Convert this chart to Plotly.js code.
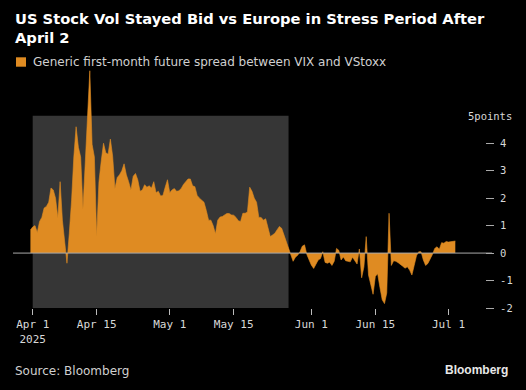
<!DOCTYPE html>
<html>
<head>
<meta charset="utf-8">
<script src="https://cdn.plot.ly/plotly-3.0.1.min.js"></script>
<style>
  html, body { margin: 0; padding: 0; background: #000; }
  #chart { width: 526px; height: 390px; }
</style>
</head>
<body>
<div id="chart"></div>
<script>
// Sampling: one reading every 12 hours, starting 2025-03-31 12:00
const startTime = Date.UTC(2025, 2, 31, 12, 0);
const stepHours = 12;

// Generic first-month future spread between VIX and VStoxx (points)
const spread = [
  0.84, 0.95, 1.0, 0.75, 1.15, 1.3, 1.64, 1.7, 1.85, 2.37,
  2.3, 2.0, 1.28, 2.6, 1.2, 0.5, -0.37, 0.7, 1.9, 3.5,
  4.6, 3.85, 3.5, 1.6, 3.3, 4.75, 6.64, 3.96, 3.5, 0.6,
  2.6, 3.35, 4.0, 3.65, 3.6, 4.15, 3.53, 2.35, 2.75, 2.85,
  3.0, 3.25, 2.85, 2.6, 2.3, 2.8, 2.9, 2.67, 2.25, 2.3,
  2.49, 2.4, 2.45, 2.37, 2.6, 2.2, 2.25, 2.08, 2.1, 2.4,
  2.67, 2.2, 2.3, 2.35, 2.25, 2.27, 2.35, 2.5, 2.62, 2.7,
  2.7, 2.45, 2.42, 2.1, 2.0, 1.94, 1.85, 1.55, 1.2, 1.2,
  1.0, 0.7, 1.2, 1.31, 1.33, 1.39, 1.44, 1.44, 1.39, 1.38,
  1.3, 1.18, 1.15, 1.45, 1.45, 1.5, 2.4, 2.25, 2.0, 1.85,
  1.3, 1.3, 1.2, 1.25, 0.92, 0.6, 0.66, 0.72, 0.85, 0.97,
  0.9, 0.65, 0.42, 0.2, -0.1, -0.3, -0.15, -0.08, 0.05, 0.25,
  0.3, -0.05, -0.25, -0.44, -0.56, -0.4, -0.25, -0.2, 0.05, -0.34,
  -0.37, -0.33, -0.45, -0.3, 0.17, 0.1, -0.25, -0.14, -0.28, -0.3,
  -0.32, -0.15, -0.3, -0.4, 0.15, -0.9, -0.5, 0.6, -0.8, -1.15,
  -1.5, -0.85, -0.75, -1.25, -1.7, -1.84, -1.45, 1.45, -0.45, -0.28,
  -0.3, -0.35, -0.4, -0.48, -0.55, -0.5, -0.62, -0.8, -0.45, -0.1,
  0.05, 0.05, -0.25, -0.45, -0.38, -0.22, -0.05, 0.17, 0.23, 0.14,
  0.38, 0.36, 0.42, 0.4, 0.42, 0.42, 0.44
];

// Axis ticks
const xTickVals = ["2025-04-01", "2025-04-15", "2025-05-01", "2025-05-15", "2025-06-01", "2025-06-15", "2025-07-01"];
const xTickText = ["Apr 1<br>2025", "Apr 15", "May 1", "May 15", "Jun 1", "Jun 15", "Jul 1"];
const yTickVals = [-2, -1, 0, 1, 2, 3, 4];
const yTickText = ["-2", "-1", "0", "1", "2", "3", "4"];

// Stress period (shaded)
const stressStart = "2025-04-01";
const stressEnd = "2025-05-27";

function pad(n) { return (n < 10 ? "0" : "") + n; }
const times = spread.map((_, i) => {
  const d = new Date(startTime + i * stepHours * 3600 * 1000);
  return d.getUTCFullYear() + "-" + pad(d.getUTCMonth() + 1) + "-" + pad(d.getUTCDate()) +
         " " + pad(d.getUTCHours()) + ":" + pad(d.getUTCMinutes());
});

const ORANGE = "#df8b22";
const W = 526, H = 390;
const M = { l: 13, r: 41, t: 68, b: 82 };
const pw = W - M.l - M.r, ph = H - M.t - M.b;
const px = x => (x - M.l) / pw;          // pixel x -> paper x
const py = y => (H - M.b - y) / ph;       // pixel y -> paper y

const trace = {
  type: "scatter", mode: "lines", x: times, y: spread,
  fill: "tozeroy", fillcolor: ORANGE,
  line: { color: ORANGE, width: 0.6 },
  hoverinfo: "skip", showlegend: false
};

const layout = {
  width: W, height: H, margin: M,
  paper_bgcolor: "#000", plot_bgcolor: "#000", showlegend: false,
  title: {
    text: "<b>US Stock Vol Stayed Bid vs Europe in Stress Period After<br>April 2</b>",
    x: 15 / W, xref: "container", xanchor: "left",
    y: 1 - 24 / H, yref: "container", yanchor: "top",
    font: { family: "DejaVu Sans", size: 14.7, color: "#ffffff" }
  },
  xaxis: {
    type: "date", range: ["2025-03-27 16:30", "2025-07-09 00:00"],
    tickvals: xTickVals, ticktext: xTickText,
    ticks: "outside", ticklen: 6, tickwidth: 1, tickcolor: "#bbbbbb",
    tickfont: { family: "DejaVu Sans Mono", size: 11, color: "#d8d8d8" },
    showgrid: false, zeroline: false, showline: false, fixedrange: true
  },
  yaxis: {
    side: "right", range: [-2, 6.74],
    tickvals: yTickVals, ticktext: yTickText,
    ticks: "outside", ticklen: 8, tickwidth: 1, tickcolor: "#aaaaaa",
    ticklabelstandoff: 4,
    tickfont: { family: "DejaVu Sans Mono", size: 10.5, color: "#d8d8d8" },
    showgrid: false, zeroline: false, showline: false, fixedrange: true
  },
  shapes: [
    { type: "rect", xref: "x", yref: "y", x0: stressStart, x1: stressEnd, y0: -2, y1: 5,
      fillcolor: "#363636", line: { width: 0 }, layer: "below" },
    { type: "line", xref: "paper", yref: "y", x0: 0, x1: px(492), y0: 0, y1: 0,
      line: { color: "#aaaaaa", width: 1 }, layer: "above" },
    { type: "rect", xref: "paper", yref: "paper", x0: px(16), x1: px(26), y0: py(66.7), y1: py(57.3),
      fillcolor: ORANGE, line: { width: 0 } }
  ],
  annotations: [
    { text: "Generic first-month future spread between VIX and VStoxx",
      xref: "paper", yref: "paper", x: px(31), y: py(62), xanchor: "left", yanchor: "middle",
      showarrow: false, font: { family: "DejaVu Sans", size: 12, color: "#d0d0d0" } },
    { text: "5points", xref: "paper", yref: "y", x: px(514), y: 5, xanchor: "right", yanchor: "middle",
      showarrow: false, font: { family: "DejaVu Sans Mono", size: 10.5, color: "#d8d8d8" } },
    { text: "Source: Bloomberg", xref: "paper", yref: "paper", x: px(13), y: py(371),
      xanchor: "left", yanchor: "middle", showarrow: false,
      font: { family: "DejaVu Sans", size: 12, color: "#d0d0d0" } },
    { text: "<b>Bloomberg</b>", xref: "paper", yref: "paper", x: px(510), y: py(370),
      xanchor: "right", yanchor: "middle", showarrow: false,
      font: { family: "Liberation Sans", size: 12, color: "#e8e8e8" } }
  ]
};

Plotly.newPlot("chart", [trace], layout, { displayModeBar: false, staticPlot: true });
</script>
</body>
</html>
